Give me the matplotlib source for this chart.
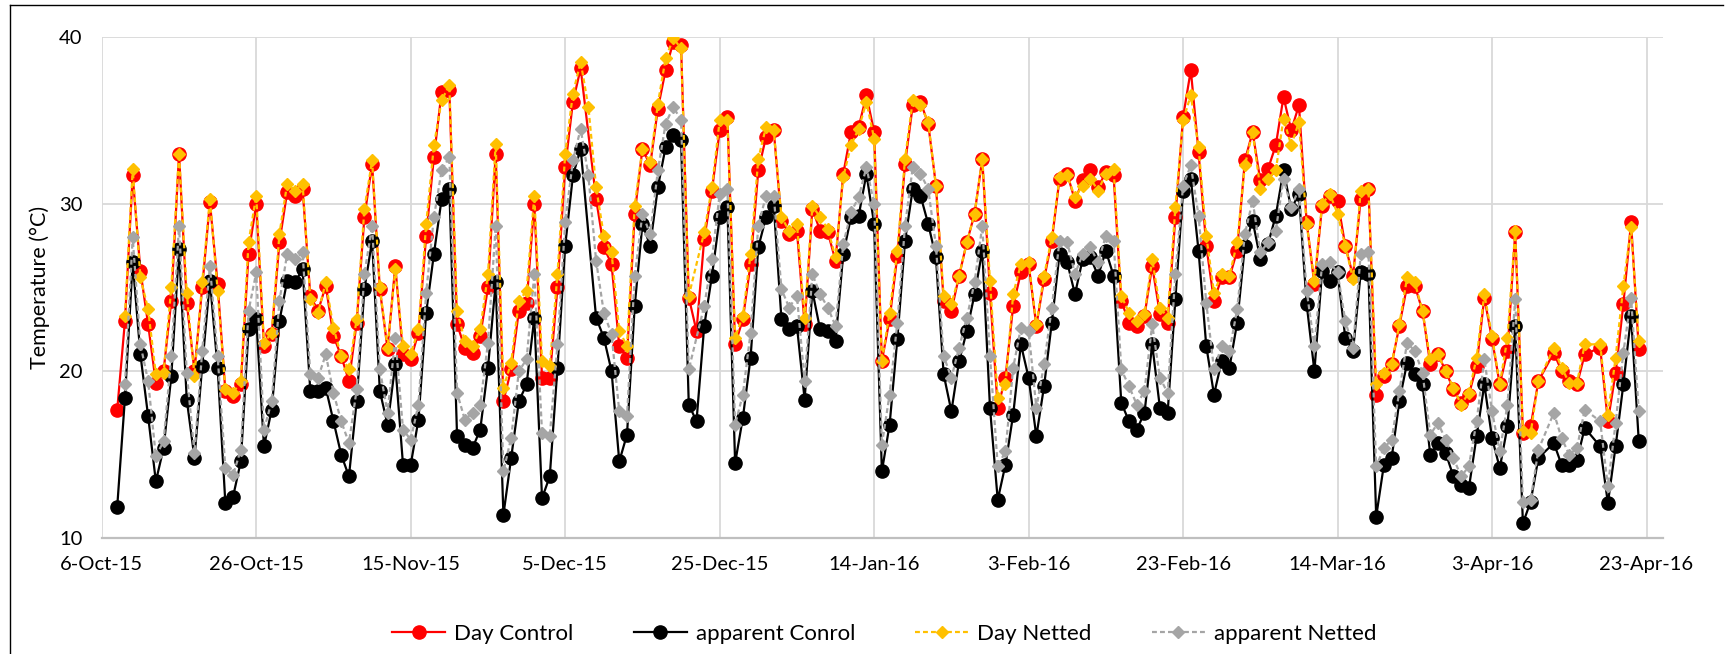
import matplotlib
matplotlib.use("Agg")
import numpy as np
import pandas as pd
import matplotlib.pyplot as plt
import matplotlib.dates as mdates
from matplotlib.ticker import FuncFormatter
from matplotlib.lines import Line2D

plt.rcParams['font.family'] = ['Lato', 'DejaVu Sans']

nan = np.nan
start_date = "2015-10-08"

day_control = [
    17.7, 23.0, 31.7, 26.0, 22.8, 19.3, 20.0, 24.2, 33.0, 24.1,
    20.0, 25.0, 30.1, 25.2, 18.8, 18.5, 19.2, 27.0, 30.0, 21.5,
    22.2, 27.7, 30.7, 30.5, 30.9, 24.5, 23.6, 25.1, 22.1, 20.9,
    19.4, 22.9, 29.2, 32.4, 24.9, 21.3, 26.3, 21.0, 20.7, 22.3,
    28.1, 32.8, 36.7, 36.8, 22.8, 21.4, 21.1, 22.1, 25.0, 33.0,
    18.2, 20.1, 23.6, 24.1, 30.0, 19.6, 19.6, 25.0, 32.2, 36.1,
    38.1, nan, 30.3, 27.4, 26.4, 21.5, 20.8, 29.4, 33.3, 32.3,
    35.7, 38.0, 39.7, 39.5, 24.4, 22.4, 27.9, 30.8, 34.4, 35.2,
    21.6, 23.1, 26.4, 32.0, 34.0, 34.4, 29.0, 28.2, 28.4, 22.8,
    29.7, 28.4, 28.3, 26.6, 31.8, 34.3, 34.6, 36.5, 34.3, 20.6,
    23.1, 26.9, 32.4, 35.9, 36.1, 34.8, 31.1, 24.2, 23.6, 25.7,
    27.7, 29.4, 32.7, 24.7, 17.8, 19.6, 23.9, 25.9, 26.4, 22.7,
    25.5, 27.8, 31.5, 31.8, 30.2, 31.4, 32.0, 31.0, 31.9, 31.7,
    24.2, 22.9, 22.7, 23.3, 26.3, 23.4, 22.9, 29.2, 35.2, 38.0,
    33.1, 27.5, 24.2, 25.6, 25.6, 27.2, 32.6, 34.3, 31.4, 32.1,
    33.5, 36.4, 34.4, 35.9, 28.9, 25.2, 29.9, 30.5, 30.2, 27.5,
    25.7, 30.3, 30.9, 18.6, 19.7, 20.4, 22.7, 25.1, 25.1, 23.6,
    20.4, 21.0, 20.0, 18.9, 18.1, 18.6, 20.3, 24.4, 21.9, 19.2,
    21.2, 28.3, 16.3, 16.7, 19.4, nan, 21.1, 20.0, 19.4, 19.2,
    21.0, nan, 21.4, 17.0, 19.9, 24.0, 28.9, 21.3,
]

apparent_control = [
    11.9, 18.4, 26.5, 21.0, 17.3, 13.4, 15.4, 19.7, 27.3, 18.3,
    14.8, 20.3, 25.4, 20.2, 12.1, 12.5, 14.6, 22.5, 23.1, 15.5,
    17.7, 23.0, 25.4, 25.3, 26.1, 18.8, 18.8, 19.0, 17.0, 15.0,
    13.7, 18.2, 24.9, 27.8, 18.8, 16.8, 20.4, 14.4, 14.4, 17.1,
    23.5, 27.0, 30.3, 30.9, 16.1, 15.6, 15.4, 16.5, 20.2, 25.3,
    11.4, 14.8, 18.2, 19.2, 23.2, 12.4, 13.7, 20.2, 27.5, 31.7,
    33.3, nan, 23.2, 22.0, 20.0, 14.6, 16.2, 23.9, 28.8, 27.5,
    31.0, 33.4, 34.1, 33.8, 18.0, 17.0, 22.7, 25.7, 29.2, 29.8,
    14.5, 17.2, 20.8, 27.4, 29.2, 29.9, 23.1, 22.5, 22.7, 18.3,
    24.8, 22.5, 22.4, 21.8, 27.0, 29.2, 29.3, 31.8, 28.8, 14.0,
    16.8, 21.9, 27.8, 30.9, 30.5, 28.8, 26.8, 19.8, 17.6, 20.6,
    22.4, 24.6, 27.2, 17.8, 12.3, 14.4, 17.4, 21.6, 19.6, 16.1,
    19.1, 22.9, 27.0, 26.5, 24.6, 26.7, 26.8, 25.7, 27.2, 25.7,
    18.1, 17.0, 16.5, 17.5, 21.6, 17.8, 17.5, 24.3, 30.8, 31.5,
    27.2, 21.5, 18.6, 20.6, 20.2, 22.9, 27.5, 29.0, 26.7, 27.6,
    29.3, 32.0, 29.7, 30.6, 24.0, 20.0, 26.0, 25.4, 25.9, 22.0,
    21.2, 25.9, 25.8, 11.3, 14.4, 14.8, 18.2, 20.5, 19.8, 19.2,
    15.0, 15.7, 15.1, 13.7, 13.2, 13.0, 16.1, 19.2, 16.0, 14.2,
    16.7, 22.7, 10.9, 12.2, 14.8, nan, 15.7, 14.4, 14.4, 14.7,
    16.6, nan, 15.5, 12.1, 15.5, 19.2, 23.3, 15.8,
]

day_netted = [
    nan, 23.3, 32.1, 25.6, 23.7, 19.8, 19.9, 25.0, 33.0, 24.7,
    19.7, 25.3, 30.3, 24.8, 18.9, 18.7, 19.4, 27.7, 30.5, 21.7,
    22.3, 28.2, 31.2, 30.8, 31.2, 24.3, 23.5, 25.3, 22.6, 20.9,
    20.1, 23.1, 29.7, 32.6, 25.0, 21.4, 26.1, 21.5, 21.0, 22.5,
    28.8, 33.5, 36.2, 37.1, 23.6, 21.8, 21.5, 22.5, 25.8, 33.6,
    19.0, 20.5, 24.2, 24.8, 30.5, 20.6, 20.3, 25.8, 33.0, 36.6,
    38.5, 35.8, 31.0, 28.1, 27.1, 22.4, 21.5, 29.9, 33.3, 32.5,
    36.0, 38.7, 39.9, 39.3, 24.5, nan, 28.3, 31.0, 35.0, 35.0,
    22.0, 23.3, 27.0, 32.7, 34.6, 34.4, 29.2, 28.4, 28.8, 23.2,
    29.9, 29.2, 28.5, 26.8, 31.6, 33.5, 34.5, 36.1, 33.9, 20.6,
    23.5, 27.2, 32.7, 36.2, 35.9, 34.9, 31.1, 24.5, 24.0, 25.7,
    27.7, 29.4, 32.7, 25.4, 18.4, 19.2, 24.6, 26.4, 26.5, 22.8,
    25.7, 28.0, 31.6, 31.7, 30.4, 31.1, 31.5, 30.8, 31.8, 32.1,
    24.5, 23.5, 23.0, 23.4, 26.7, 23.8, 23.2, 29.8, 35.0, 36.5,
    33.4, 28.1, 24.7, 25.8, 25.7, 27.7, 32.3, 34.3, 30.9, 31.5,
    32.0, 35.1, 33.5, 34.9, 28.8, 25.4, 30.0, 30.6, 29.4, 27.5,
    25.5, 30.8, 30.9, 19.2, 19.9, 20.4, 22.8, 25.6, 25.3, 23.6,
    20.7, 21.0, 20.0, 19.0, 18.0, 18.7, 20.8, 24.6, 22.1, 19.2,
    22.0, 28.4, 16.4, 16.3, 19.4, nan, 21.4, 20.2, 19.3, 19.3,
    21.6, nan, 21.6, 17.4, 20.8, 25.1, 28.6, 21.8,
]

apparent_netted = [
    nan, 19.2, 28.0, 21.6, 19.4, 14.9, 15.8, 20.9, 28.7, 19.9,
    15.1, 21.2, 26.3, 20.9, 14.2, 13.8, 15.3, 23.6, 25.9, 16.5,
    18.2, 24.2, 27.0, 26.7, 27.1, 19.8, 19.6, 21.0, 18.7, 17.0,
    15.7, 18.9, 25.8, 28.7, 20.1, 17.5, 22.0, 16.5, 15.9, 18.0,
    24.7, 29.2, 32.0, 32.8, 18.7, 17.1, 17.5, 18.0, 21.7, 28.7,
    14.0, 16.0, 20.0, 20.7, 25.8, 16.3, 16.1, 21.6, 28.9, 32.6,
    34.5, 31.7, 26.6, 23.5, 22.2, 17.6, 17.3, 25.7, 29.4, 28.2,
    32.0, 34.8, 35.8, 35.0, 20.1, nan, 23.9, 26.7, 30.6, 30.9,
    16.8, 18.6, 22.3, 28.7, 30.5, 30.5, 24.9, 23.8, 24.5, 19.4,
    25.8, 24.6, 23.8, 22.7, 27.6, 29.5, 30.4, 32.2, 30.0, 15.6,
    18.6, 22.9, 28.7, 32.2, 31.8, 30.9, 27.5, 20.9, 19.6, 21.4,
    23.2, 25.3, 28.7, 20.9, 14.3, 15.2, 20.2, 22.6, 22.4, 17.8,
    20.4, 23.8, 27.8, 27.7, 25.8, 27.0, 27.4, 26.5, 28.1, 27.8,
    20.1, 19.1, 18.0, 18.8, 22.8, 19.6, 18.7, 25.8, 31.1, 32.3,
    29.3, 24.1, 20.1, 21.5, 21.2, 23.7, 28.2, 30.2, 27.1, 27.7,
    28.4, 31.5, 29.8, 30.9, 24.8, 21.5, 26.4, 26.5, 25.9, 23.0,
    21.4, 27.0, 27.1, 14.3, 15.4, 15.9, 18.8, 21.7, 21.2, 19.9,
    16.2, 16.9, 15.9, 14.8, 13.7, 14.3, 17.0, 20.7, 17.6, 15.2,
    18.0, 24.3, 12.2, 12.3, 15.3, nan, 17.5, 16.0, 15.0, 15.4,
    17.7, nan, 17.0, 13.1, 16.9, 21.1, 24.4, 17.6,
]

series_labels = ["Day Control", "apparent Conrol", "Day Netted", "apparent Netted"]
tick_dates = pd.date_range("2015-10-06", "2016-04-23", freq="20D")

dates = pd.date_range(start_date, periods=len(day_control), freq="D")

fig = plt.figure(figsize=(17.34, 6.54), dpi=100)
ax = fig.add_axes([0.0587, 0.1769, 0.9002, 0.767])


def draw(vals, **kw):
    v = np.array(vals, dtype=float)
    m = ~np.isnan(v)
    return ax.plot(dates[m], v[m], **kw)[0]


h1 = draw(day_control, color="#ff0000", lw=1.6, marker="o", ms=9.5,
          mfc="#ff0000", mec="#ff0000", label=series_labels[0], zorder=3)
h2 = draw(apparent_control, color="#000000", lw=1.6, marker="o", ms=9.5,
          mfc="#000000", mec="#000000", label=series_labels[1], zorder=4)
h3 = draw(day_netted, color="#ffc000", lw=1.6, ls=(0, (2.2, 1.4)), marker="D", ms=6.5,
          mfc="#ffc000", mec="#ffc000", label=series_labels[2], zorder=5)
h4 = draw(apparent_netted, color="#a5a5a5", lw=1.6, ls=(0, (2.2, 1.4)), marker="D", ms=6.5,
          mfc="#a5a5a5", mec="#a5a5a5", label=series_labels[3], zorder=6)

ax.set_ylim(10, 40)
ax.set_yticks([10, 20, 30, 40])
x0 = pd.Timestamp("2015-10-06")
ax.set_xlim(x0, x0 + pd.Timedelta(days=202.1))
ax.set_xticks(tick_dates)
ax.xaxis.set_major_formatter(FuncFormatter(
    lambda v, p: (lambda d: f"{d.day}-{d.strftime('%b-%y')}")(mdates.num2date(v))))

ax.grid(True, color="#d9d9d9", lw=1.3, zorder=0)
ax.set_axisbelow(True)
for s in ["top", "right", "left"]:
    ax.spines[s].set_visible(False)
ax.spines["bottom"].set_color("#bfbfbf")
ax.spines["bottom"].set_linewidth(1.6)
ax.tick_params(axis="both", length=0, labelsize=14.5, colors="#000000")
ax.tick_params(axis="x", pad=13)
ax.tick_params(axis="y", pad=14)
ax.set_ylabel("Temperature (°C)", fontsize=15.5)
ax.yaxis.set_label_coords(-0.033, 0.5)

fig.legend(handles=[h1, h2, h3, h4], loc="center", bbox_to_anchor=(0.51, 0.031),
           ncol=4, frameon=False, fontsize=16, handlelength=2.4, columnspacing=2.7,
           handletextpad=0.4)

fig.add_artist(Line2D([10 / 1734, 10 / 1734], [0, 1 - 5 / 654], transform=fig.transFigure,
                      color="black", lw=1))
fig.add_artist(Line2D([10 / 1734, 1723 / 1734], [1 - 5 / 654, 1 - 5 / 654], transform=fig.transFigure,
                      color="black", lw=1))

fig.savefig("out.png", dpi=100)
